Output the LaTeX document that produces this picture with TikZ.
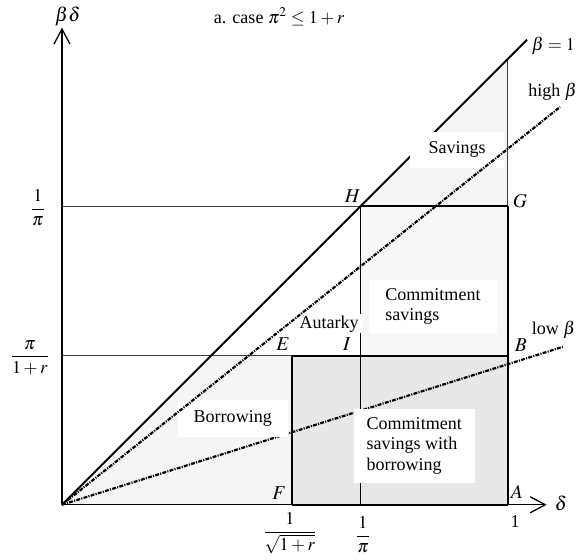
\documentclass[tikz,border=0pt]{standalone}
\usepackage{amsmath}
\usepackage{mathptmx}
\usepackage{fontspec}
\setmainfont{Liberation Serif}
\usetikzlibrary{arrows.meta}

\begin{document}
\begin{tikzpicture}
  [x=10cm, y=10cm, font=\fontsize{11.5}{13}\selectfont,
   axis/.style={line width=.8pt, -{Straight Barb[length=3.4mm, width=3.6mm]}},
   guide/.style={line width=.5pt, black!75},
   split/.style={line width=.7pt},
   border/.style={line width=1.3pt},
   diag/.style={line width=1.2pt},
   betaline/.style={line width=1.4pt, dash pattern=on 2.5pt off .8pt on .7pt off .8pt},
   region/.style={fill=white, inner sep=0pt, align=left},
   corner/.style={inner sep=0pt, font=\fontsize{12.5}{14}\selectfont}]

  \useasboundingbox (-0.139,-0.123) rectangle (1.164,1.132);

  % points of the diagram
  \coordinate (O) at (0,0);
  \coordinate (A) at (1,0);
  \coordinate (B) at (1,0.334);
  \coordinate (G) at (1,0.670);
  \coordinate (H) at (0.670,0.670);
  \coordinate (I) at (0.670,0.334);
  \coordinate (E) at (0.516,0.334);
  \coordinate (F) at (0.516,0);
  \coordinate (K) at (0.334,0.334);
  \coordinate (T) at (1,1);
  \coordinate (Xpi) at (0.670,0);
  \coordinate (Ypi) at (0,0.670);
  \coordinate (Yr) at (0,0.334);
  \coordinate (Xtip) at (1.087,0);
  \coordinate (Ytip) at (0,1.070);
  \coordinate (Dend) at (1.043,1.043);
  \coordinate (Hend) at (1.117,0.892);
  \coordinate (Lend) at (1.123,0.354);

  % shaded regions
  \fill[gray!8] (H) -- (G) -- (T) -- cycle;
  \fill[gray!8] (O) -- (F) -- (E) -- (K) -- cycle;
  \fill[gray!6] (I) rectangle (G);
  \fill[gray!18] (F) rectangle (B);

  \draw[axis] (O) -- (Ytip);
  \draw[axis] (O) -- (Xtip);

  \foreach \from/\to in {Ypi/H, Yr/E, G/T}
    \draw[guide] (\from) -- (\to);
  \draw[split] (H) -- (Xpi);
  \foreach \from/\to in {H/G, G/B, B/A, E/B, F/A, E/F}
    \draw[border] (\from) -- (\to);

  \draw[diag] (O) -- (Dend);
  \draw[betaline] (O) -- (Lend);

  % region labels
  \node[region, minimum width=2.09cm, minimum height=0.81cm] (sav) at (0.886,0.796) {Savings};
  \node[region, minimum width=2.85cm, minimum height=1.19cm] (csav) at (0.832,0.444)
    {Commitment\\savings};
  \node[fill=white, inner xsep=3pt, inner ysep=1pt] (aut) at (0.599,0.406) {Autarky};
  \node[region, minimum width=2.47cm, minimum height=0.83cm] (bor) at (0.383,0.193) {Borrowing};
  \node[region, minimum width=2.71cm, minimum height=1.66cm] (cbor) at (0.790,0.132)
    {Commitment\\savings with\\borrowing};

  \draw[betaline] (O) -- (Hend);

  % point labels
  \node[corner] (lH) at (0.652,0.691) {$H$};
  \node[corner] (lG) at (1.027,0.682) {$G$};
  \node[corner] (lE) at (0.496,0.361) {$E$};
  \node[corner] (lI) at (0.639,0.361) {$I$};
  \node[corner] (lB) at (1.029,0.359) {$B$};
  \node[corner] (lA) at (1.020,0.029) {$A$};
  \node[corner] (lF) at (0.487,0.027) {$F$};

  % axes and ticks
  \node[corner] (ybd) at (0.013,1.096) {$\beta\delta$};
  \node[corner] (xd) at (1.119,0.004) {$\delta$};
  \node (title) at (0.487,1.094) {a. case $\pi^2 \le 1+r$};
  \node[anchor=west, inner sep=0pt] (b1) at (1.053,1.029) {$\beta=1$};
  \node[anchor=west, inner sep=0pt] (bh) at (1.045,0.926) {high $\beta$};
  \node[anchor=west, inner sep=0pt] (bl) at (1.053,0.392) {low $\beta$};
  \node (x1) at (1.016,-0.038) {1};
  \node (xs) at (0.511,-0.063) {$\dfrac{1}{\sqrt{1+r}}$};
  \node (xp) at (0.675,-0.067) {$\dfrac{1}{\pi}$};
  \node (yp) at (-0.054,0.666) {$\dfrac{1}{\pi}$};
  \node (yr) at (-0.072,0.330) {$\dfrac{\pi}{1+r}$};
\end{tikzpicture}
\end{document}
